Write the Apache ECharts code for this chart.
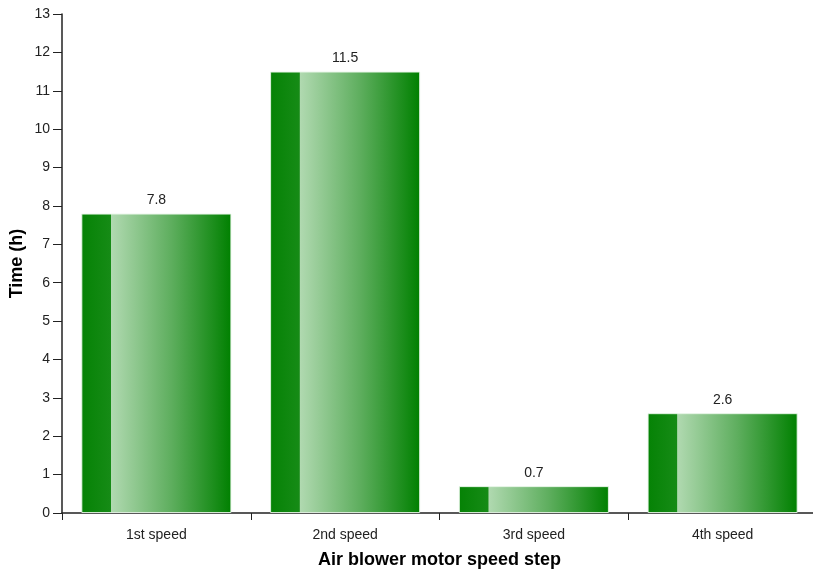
<!DOCTYPE html>
<html><head><meta charset="utf-8">
<script src="https://cdn.jsdelivr.net/npm/echarts@6/dist/echarts.min.js"></script>
<style>html,body{margin:0;padding:0;background:#fff}#c{width:813px;height:575px}</style>
</head><body><div id="c"></div>
<script>
const categories = ['1st speed', '2nd speed', '3rd speed', '4th speed'];
const values = [7.8, 11.5, 0.7, 2.6];
const yTicks = { min: 0, max: 13, interval: 1 };

const barColor = new echarts.graphic.LinearGradient(0, 0, 1, 0, [
  { offset: 0, color: '#058205' },
  { offset: 0.195, color: '#168b16' },
  { offset: 0.2, color: '#b0d9b0' },
  { offset: 0.6, color: '#5eae5e' },
  { offset: 1, color: '#008000' }
]);

const chart = echarts.init(document.getElementById('c'), null, { renderer: 'canvas' });
chart.setOption({
  animation: false,
  textStyle: { fontFamily: 'Liberation Sans, Arial, sans-serif' },
  grid: { left: 62, right: -4, top: 14, bottom: 62, containLabel: false, outerBoundsMode: 'none' },
  xAxis: {
    type: 'category',
    data: categories,
    name: 'Air blower motor speed step',
    nameLocation: 'middle',
    nameGap: 38,
    nameMoveOverlap: false,
    nameTextStyle: { fontSize: 18, fontWeight: 'bold', color: '#000' },
    axisLine: { lineStyle: { color: '#222', width: 1.5 } },
    axisTick: { show: true, length: 7, alignWithLabel: false, lineStyle: { color: '#222' } },
    axisLabel: { fontSize: 14, color: '#222', margin: 15 },
    splitLine: { show: false }
  },
  yAxis: {
    type: 'value',
    min: yTicks.min, max: yTicks.max, interval: yTicks.interval,
    name: 'Time (h)',
    nameLocation: 'middle',
    nameGap: 36,
    nameMoveOverlap: false,
    nameRotate: 90,
    nameTextStyle: { fontSize: 18, fontWeight: 'bold', color: '#000' },
    axisLine: { show: true, lineStyle: { color: '#222', width: 1.5 } },
    axisTick: { show: true, length: 9, lineStyle: { color: '#222' } },
    axisLabel: { fontSize: 14, color: '#222', margin: 12 },
    splitLine: { show: false }
  },
  series: [{
    type: 'bar',
    data: values,
    barWidth: '79.5%',
    itemStyle: { color: barColor, borderColor: 'rgba(230,245,230,0.9)', borderWidth: 1 },
    label: { show: true, position: 'top', fontSize: 14, color: '#222', distance: 6 }
  }]
});
</script></body></html>
